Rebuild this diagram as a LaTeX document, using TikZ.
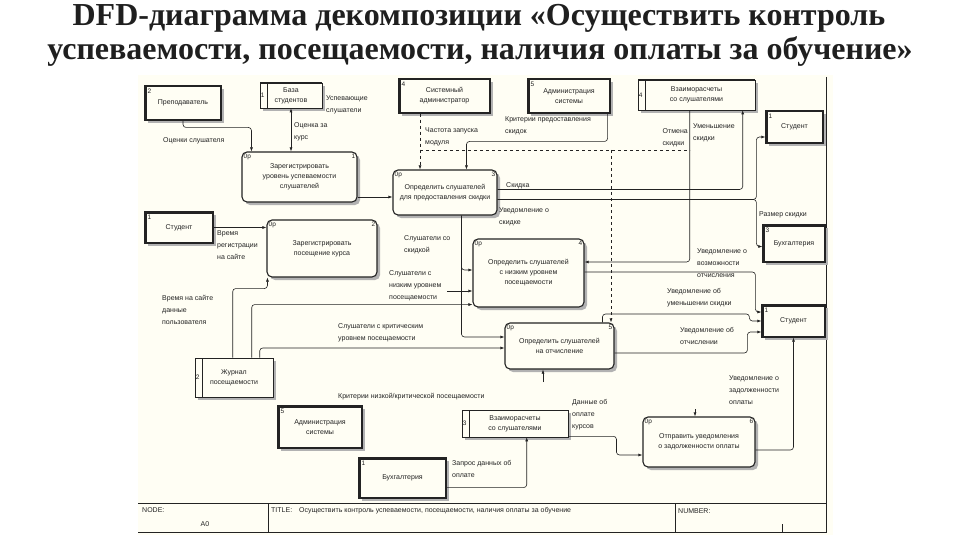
\documentclass[tikz,border=0pt]{standalone}
\usepackage{fontspec}
\setmainfont{Liberation Serif}
\newfontfamily\diagfont{Liberation Sans}
\usetikzlibrary{calc,shadows,arrows.meta}
\definecolor{paper}{RGB}{255,254,244}
\definecolor{ink}{RGB}{35,35,35}
\begin{document}
\begin{tikzpicture}[x=1pt, y=-1pt, >={Latex[length=4pt,width=3pt]},
    font=\diagfont\fontsize{7}{10}\selectfont, text=ink,
    every label/.style={inner sep=2pt, font=\diagfont\fontsize{6.5}{7}\selectfont, text=ink},
    sz/.style 2 args={minimum width=#1, minimum height=#2},
    shade/.style={drop shadow={shadow xshift=3pt, shadow yshift=-3pt, fill=gray!60, opacity=1}},
    ent/.style={draw=ink, line width=1.2pt, fill=paper, align=center, inner sep=1pt, shade,
      path picture={\draw[line width=3pt] (path picture bounding box.south west)
        -- (path picture bounding box.north west) -- (path picture bounding box.north east);}},
    num/.style={label={[anchor=north west, xshift=1pt, yshift=-1pt]north west:#1}},
    proc/.style={draw=ink, line width=1.1pt, rounded corners=5pt, fill=paper, align=center,
      inner sep=1pt, shade, label={[anchor=north west]north west:0р}},
    pn/.style={label={[anchor=north east]north east:#1}},
    store/.style={draw=ink, line width=0.6pt, fill=paper, align=center, inner sep=1pt, shade,
      path picture={\draw[line width=2.4pt] (path picture bounding box.south west)
        -- (path picture bounding box.north west) -- (path picture bounding box.north east);
        \draw[line width=0.6pt] ([xshift=7pt]path picture bounding box.south west)
        -- ([xshift=7pt]path picture bounding box.north west);}},
    snum/.style={label={[anchor=west, inner sep=1pt]west:#1}},
    flow/.style={draw=ink, line width=0.6pt, rounded corners=3pt, ->},
    ctrl/.style={flow, dashed},
    lbl/.style={font=\diagfont\fontsize{7}{12}\selectfont, align=left, inner sep=0pt},
    title/.style={font=\fontsize{32}{34}\selectfont\bfseries, text=black!88}]
\useasboundingbox (0,0) rectangle (960,540);
\fill[white] (0,0) rectangle (960,540);

% Title
\node[title] (t1) at (479,18) {DFD-диаграмма декомпозиции «Осуществить контроль};
\node[title] (t2) at (480,52) {успеваемости, посещаемости, наличия оплаты за обучение»};

% Sheet and title block
\fill[paper] (138,75) rectangle (833,535);
\draw[ink, line width=0.8pt] (826,77) -- (826,532) -- (138,532);
\draw[ink, line width=0.8pt] (138,503) -- (826,503);
\draw[ink, line width=0.8pt] (268,503) -- (268,532);
\draw[ink, line width=0.8pt] (675,503) -- (675,532);
\draw[ink, line width=0.8pt] (782,524) -- (782,532);
\node[lbl, anchor=west] (tbN) at (142,510) {NODE:};
\node[lbl] (tbA) at (205,524) {A0};
\node[lbl, anchor=west] (tbT) at (271,511) {TITLE:\quad Осуществить контроль успеваемости, посещаемости, наличия оплаты за обучение};
\node[lbl, anchor=west] (tbM) at (678,511) {NUMBER:};

% External entities
\node[ent, sz={76}{34}, num=2] (prep) at (183,103) {Преподаватель};
\node[ent, sz={68}{31}, num=1] (studA) at (179,227.5) {Студент};
\node[ent, sz={91}{34}, num=4] (sysadm) at (444.5,96) {Системный\\администратор};
\node[ent, sz={82}{34}, num=5] (admA) at (569,96) {Администрация\\системы};
\node[ent, sz={57}{32}, num=1] (studB) at (794.5,127) {Студент};
\node[ent, sz={62}{37}, num=3] (buhA) at (794,243.5) {Бухгалтерия};
\node[ent, sz={63}{32}, num=1] (studC) at (793.5,321) {Студент};
\node[ent, sz={84}{42}, num=5] (admB) at (320,427) {Администрация\\системы};
\node[ent, sz={87}{40}, num=1] (buhB) at (402.5,478) {Бухгалтерия};

% Data stores
\node[store, sz={62}{25}, snum=1] (bs) at (291,95.5) {База\\студентов};
\node[store, sz={117}{30}, snum=4] (vzA) at (696.5,95) {Взаиморасчеты\\со слушателями};
\node[store, sz={78}{39}, snum=2] (jp) at (234,377.5) {Журнал\\посещаемости};
\node[store, sz={106}{27}, snum=3] (vzB) at (515,423.5) {Взаиморасчеты\\со слушателями};

% Processes
\node[proc, sz={115}{50}, pn=1] (p1) at (299.5,177) {Зарегистрировать\\уровень успеваемости\\слушателей};
\node[proc, sz={110}{57}, pn=2] (p2) at (322,248.5) {Зарегистрировать\\посещение курса};
\node[proc, sz={104}{45}, pn=3] (p3) at (445,192.5) {Определить слушателей\\для предоставления скидки};
\node[proc, sz={111}{68}, pn=4] (p4) at (528.5,273) {Определить слушателей\\с низким уровнем\\посещаемости};
\node[proc, sz={109}{46}, pn=5] (p5) at (559.5,346) {Определить слушателей\\на отчисление};
\node[proc, sz={112}{50}, pn=6] (p6) at (699,442) {Отправить уведомления\\о задолженности оплаты};

% Junctions and free ends
\coordinate (jA) at (420,150);
\coordinate (jB) at (611,150);
\coordinate (cs) at (690,150);
\coordinate (lowin) at (447,291);
\coordinate (critin) at (543,382);
\coordinate (p6ctl) at (695,409);

% Flows in the upper part
\draw[flow] (prep.south) |- ($(p1.north west)+(10,-24)$) -- ($(p1.north west)+(10,0)$);
\draw[flow, <->] (bs.south) -- (bs.south |- p1.north);
\draw[flow] ($(p1.east)+(0,20)$) -- ($(p3.west)+(0,4.5)$);
\draw[ctrl] (sysadm.south -| jA) -- (jA |- p3.north);
\draw[ctrl, -] (jA) -- (cs);
\draw[ctrl] (jB) -- (jB |- p5.north);
\draw[flow] ($(admA.south east)+(-3,0)$) |- ($(p3.north west)+(74,-28)$) -- ($(p3.north west)+(74,0)$);
\draw[flow] ($(p3.north east)+(0,20)$) -| ($(vzA.south west)+(105,0)$);
\draw[flow] ($(p3.north east)+(0,30)$) -| ($(studB.west)+(-9,10)$) -- ($(studB.west)+(0,10)$);
\draw[flow] ($(p3.north east)+(0,30)$) -| ($(buhA.west)+(-6,3)$) -- ($(buhA.west)+(0,3)$);
\draw[flow] ($(vzA.south west)+(52,0)$) |- ($(p4.east)+(0,-11)$);

% Flows to the students on the right
\draw[flow] ($(p4.east)+(0,-1)$) -| ($(studC.west)+(-6,-9)$) -- ($(studC.west)+(0,-9)$);
\draw[flow] ($(p5.north west)+(98,0)$) |- ($(studC.west)+(-12,-7)$) |- ($(studC.west)+(0,0)$);
\draw[flow] ($(p5.east)+(0,7)$) -| ($(studC.west)+(-14,11)$) -- ($(studC.west)+(0,11)$);
\draw[flow] ($(p6.east)+(0,8)$) -| (studC.south);

% Flows in the middle
\draw[flow] ($(p3.south west)+(69,0)$) |- ($(p4.west)+(0,-3)$);
\draw[flow] ($(p3.south west)+(69,0)$) |- ($(p5.west)+(0,-9)$);
\draw[flow] (lowin) -- (lowin -| p4.west);
\draw[flow] ($(jp.north west)+(57,0)$) |- ($(p4.south west)+(0,-3)$);
\draw[flow] ($(jp.north west)+(65,0)$) |- ($(p5.west)+(0,2)$);
\draw[flow] (studA.east) -- (studA.east -| p2.west);
\draw[flow] ($(jp.north west)+(38,0)$) |- ($(p2.south west)+(1,11)$) -- ($(p2.south west)+(1,0)$);

% Flows in the lower part
\draw[flow] ($(vzB.south east)+(0,-1)$) -| ($(p6.west)+(-26,13)$) -- ($(p6.west)+(0,13)$);
\draw[flow] ($(buhB.south east)+(0,-11)$) -| ($(vzB.south west)+(65,0)$);
\draw[flow] (critin) -- (critin |- p5.south);
\draw[flow] (p6ctl) -- (p6ctl |- p6.north);

% Flow labels
\node[lbl, anchor=west] (lOc) at (163,141) {Оценки слушателя};
\node[lbl, anchor=north west] (lOk) at (294,122) {Оценка за\\курс};
\node[lbl, anchor=north west] (lUs) at (326,95) {Успевающие\\слушатели};
\node[lbl, anchor=north west] (lCh) at (425,127) {Частота запуска\\модуля};
\node[lbl, anchor=north west] (lKr) at (505,116) {Критерии предоставления\\скидок};
\node[lbl, anchor=west] (lSk) at (506,186) {Скидка};
\node[lbl, anchor=north west] (lUv) at (499,207) {Уведомление о\\скидке};
\node[lbl, anchor=north east] (lOt) at (688,128) {Отмена\\скидки};
\node[lbl, anchor=north west] (lUm) at (693,123) {Уменьшение\\скидки};
\node[lbl, anchor=west] (lRs) at (759,215) {Размер скидки};
\node[lbl, anchor=north west] (lVo) at (697,248) {Уведомление о\\возможности\\отчисления};
\node[lbl, anchor=north west] (lUu) at (667,288) {Уведомление об\\уменьшении скидки};
\node[lbl, anchor=north west] (lUo) at (680,327) {Уведомление об\\отчислении};
\node[lbl, anchor=north west] (lZd) at (729,375) {Уведомление о\\задолженности\\оплаты};
\node[lbl, anchor=north west] (lSs) at (404,235) {Слушатели со\\скидкой};
\node[lbl, anchor=north west] (lNz) at (389,270) {Слушатели с\\низким уровнем\\посещаемости};
\node[lbl, anchor=north west] (lKp) at (338,323) {Слушатели с критическим\\уровнем посещаемости};
\node[lbl, anchor=north west] (lVr) at (217,230) {Время\\регистрации\\на сайте};
\node[lbl, anchor=north west] (lVs) at (162,295) {Время на сайте\\данные\\пользователя};
\node[lbl, anchor=west] (lKn) at (338,397) {Критерии низкой/критической посещаемости};
\node[lbl, anchor=north west] (lDo) at (572,399) {Данные об\\оплате\\курсов};
\node[lbl, anchor=north west] (lZp) at (452,460) {Запрос данных об\\оплате};

\end{tikzpicture}
\end{document}
